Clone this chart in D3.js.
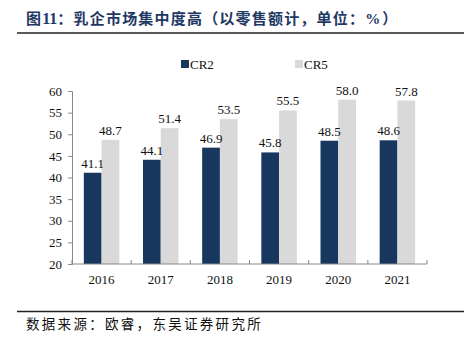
<!DOCTYPE html>
<html>
<head>
<meta charset="utf-8">
<style>
  *{margin:0;padding:0;box-sizing:border-box}
  body{background:#fff;width:464px;height:341px;overflow:hidden}
  svg{display:block}
</style>
</head>
<body>
<svg id="g"></svg>
<script src="https://cdn.jsdelivr.net/npm/d3@7/dist/d3.min.js"></script>
<script>
const years = ['2016','2017','2018','2019','2020','2021'];
const series = ['CR2','CR5'];
const cr2 = [41.1, 44.1, 46.9, 45.8, 48.5, 48.6];
const cr5 = [48.7, 51.4, 53.5, 55.5, 58.0, 57.8];
const yTicks = [20, 25, 30, 35, 40, 45, 50, 55, 60];

const COLORS = {CR2: '#17375E', CR5: '#D9D9D9'};
const SERIF = '"Liberation Serif","Times New Roman",serif';
const CJK = '"Noto Sans CJK SC","Noto Sans",sans-serif';

const W = 464, H = 341;
const m = {left: 72, right: 37, top: 91, bottom: 77};

const svg = d3.select('#g').attr('width', W).attr('height', H);

// title + rules
const title = svg.append('text').attr('x', 26).attr('y', 24)
  .attr('font-family', CJK).attr('font-weight', 'bold').attr('font-size', 15)
  .attr('fill', '#1F3864').attr('letter-spacing', 1.2);
title.append('tspan').text('图');
title.append('tspan').attr('font-family', SERIF).attr('font-size', 16).attr('letter-spacing', 0).text('11');
title.append('tspan').text('：乳企市场集中度高（以零售额计，单位：');
title.append('tspan').attr('font-family', SERIF).attr('letter-spacing', 0).text('%');
title.append('tspan').attr('dx', 2).text('）');

svg.append('line').attr('x1', 17).attr('x2', W).attr('y1', 33).attr('y2', 33)
  .attr('stroke', '#222').attr('stroke-width', 1.5);
svg.append('line').attr('x1', 17).attr('x2', W).attr('y1', 311.5).attr('y2', 311.5)
  .attr('stroke', '#222').attr('stroke-width', 1.5);
svg.append('text').attr('x', 26).attr('y', 329)
  .attr('font-family', CJK).attr('font-size', 13.5).attr('fill', '#111')
  .attr('letter-spacing', 2.3)
  .text('数据来源：欧睿，东吴证券研究所');

const x = d3.scaleBand().domain(years).range([m.left, W - m.right]).paddingInner(0.4).paddingOuter(0.2);
const band = d3.scaleBand().domain(years).range([m.left, W - m.right]);
const xs = d3.scaleBand().domain(series).range([0, x.bandwidth()]);
const y = d3.scaleLinear().domain([20, 60]).range([H - m.bottom, m.top]);

const data = years.map((yr, i) => ({yr, CR2: cr2[i], CR5: cr5[i]}));

const g = svg.append('g');
const grp = g.selectAll('.grp').data(data).enter().append('g')
  .attr('transform', d => `translate(${x(d.yr)},0)`);

grp.selectAll('rect').data(d => series.map(s => ({s, v: d[s]}))).enter().append('rect')
  .attr('x', d => xs(d.s)).attr('width', xs.bandwidth())
  .attr('y', d => y(d.v)).attr('height', d => y(20) - y(d.v))
  .attr('fill', d => COLORS[d.s]);

grp.selectAll('text').data(d => series.map(s => ({s, v: d[s]}))).enter().append('text')
  .attr('x', d => xs(d.s) + xs.bandwidth() / 2).attr('y', d => y(d.v) - 5)
  .attr('text-anchor', 'middle').attr('font-family', SERIF).attr('font-size', 13)
  .attr('fill', '#111').text(d => d.v.toFixed(1));

// y axis
const ya = svg.append('g').attr('transform', `translate(${m.left},0)`)
  .call(d3.axisLeft(y).tickValues(yTicks).tickSize(4).tickPadding(6));
ya.select('.domain').attr('stroke', '#888');
ya.selectAll('.tick line').attr('stroke', '#888');
ya.selectAll('text').attr('font-family', SERIF).attr('font-size', 13).attr('fill', '#111');

// x axis with ticks on category boundaries
const xa = svg.append('g').attr('transform', `translate(0,${y(20)})`);
xa.append('line').attr('x1', m.left).attr('x2', W - m.right).attr('stroke', '#888');
xa.selectAll('.bt').data(years.concat(['end'])).enter().append('line')
  .attr('x1', (d, i) => i < years.length ? band(d) : band.range()[1])
  .attr('x2', (d, i) => i < years.length ? band(d) : band.range()[1])
  .attr('y1', 0).attr('y2', -4).attr('stroke', '#888');
xa.selectAll('.lbl').data(years).enter().append('text')
  .attr('x', d => band(d) + band.bandwidth() / 2).attr('y', 20)
  .attr('text-anchor', 'middle').attr('font-family', SERIF).attr('font-size', 13)
  .attr('fill', '#111').text(d => d);

// legend
const leg = svg.append('g');
const legX = [181, 295];
series.forEach((s, i) => {
  leg.append('rect').attr('x', legX[i]).attr('y', 60).attr('width', 8).attr('height', 8)
    .attr('fill', COLORS[s]);
  leg.append('text').attr('x', legX[i] + 9).attr('y', 68.5)
    .attr('font-family', SERIF).attr('font-size', 13).attr('fill', '#111').text(s);
});
</script>
</body>
</html>
